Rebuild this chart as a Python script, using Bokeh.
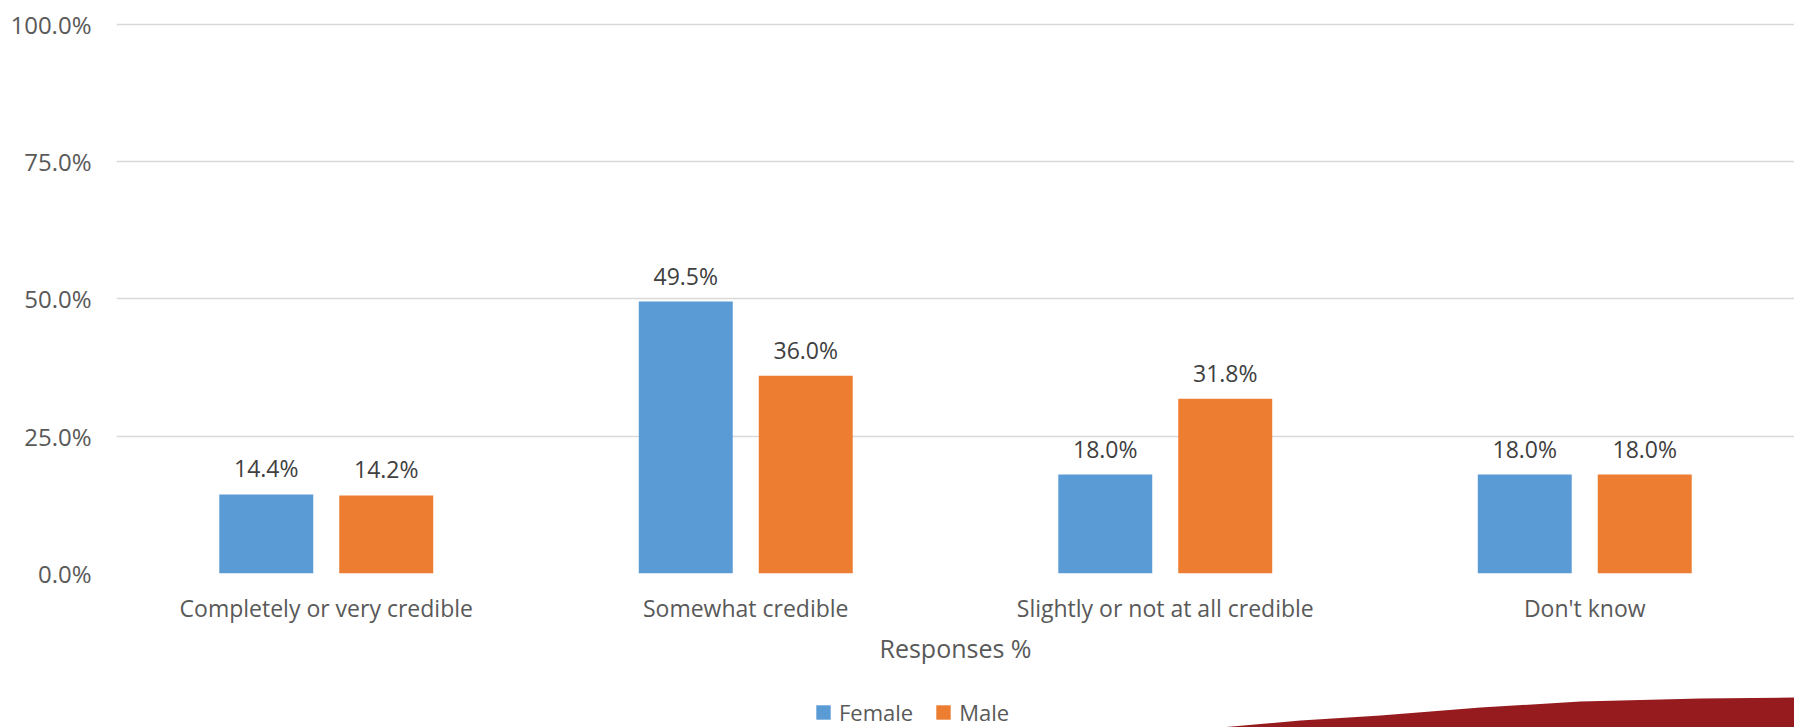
from bokeh.plotting import figure
from bokeh.layouts import column
from bokeh.models import (ColumnDataSource, FactorRange, Range1d, FixedTicker,
                          PrintfTickFormatter, LabelSet, Legend, LegendItem)
from bokeh.core.properties import value
from bokeh.transform import dodge
from bokeh.embed import file_html
from bokeh.resources import INLINE

categories = ["Completely or very credible", "Somewhat credible",
              "Slightly or not at all credible", "Don't know"]
female = [14.4, 49.5, 18.0, 18.0]
male = [14.2, 36.0, 31.8, 18.0]
y_ticks = [0, 25, 50, 75, 100]
series_names = ["Female", "Male"]
series_colors = ["#5B9BD5", "#ED7D31"]

FONT = "Open Sans"
W = 1794
LEFT = 116
H_MAIN = 690
H_FOOT = 37

src = ColumnDataSource(dict(
    cat=categories,
    female=female,
    male=male,
    female_lbl=[f"{v:.1f}%" for v in female],
    male_lbl=[f"{v:.1f}%" for v in male],
))

p = figure(x_range=FactorRange(factors=categories, range_padding=0),
           y_range=Range1d(0, 100.3),
           width=W, height=H_MAIN, output_backend="svg", toolbar_location=None,
           min_border_left=LEFT, min_border_right=0, min_border_top=22,
           min_border_bottom=H_MAIN - 573)
p.outline_line_color = None
p.background_fill_color = "white"
p.border_fill_color = "white"

BW = 0.224
OFF = 0.143
p.vbar(x=dodge("cat", -OFF, range=p.x_range), top="female", width=BW,
       source=src, fill_color=series_colors[0], line_color=None)
p.vbar(x=dodge("cat", OFF, range=p.x_range), top="male", width=BW,
       source=src, fill_color=series_colors[1], line_color=None)

for col, lbl, off in (("female", "female_lbl", -OFF), ("male", "male_lbl", OFF)):
    ls = LabelSet(x=dodge("cat", off, range=p.x_range), y=col, text=lbl, source=src,
                  text_align="center", text_baseline="alphabetic", y_offset=17,
                  text_font=value(FONT), text_font_size=value("23px"),
                  text_color="#404040")
    p.add_layout(ls)

# y axis
p.yaxis.ticker = FixedTicker(ticks=y_ticks)
p.yaxis.formatter = PrintfTickFormatter(format="%.1f%%")
p.yaxis.axis_line_color = None
p.yaxis.major_tick_line_color = None
p.yaxis.minor_tick_line_color = None
p.yaxis.major_tick_out = 0
p.yaxis.major_label_standoff = 25
p.yaxis.major_label_text_font = FONT
p.yaxis.major_label_text_font_size = "24px"
p.yaxis.major_label_text_color = "#595959"

# x axis
p.xaxis.axis_line_color = None
p.xaxis.major_tick_line_color = None
p.xaxis.minor_tick_line_color = None
p.xaxis.major_tick_out = 0
p.xaxis.major_label_standoff = 18
p.xaxis.major_label_text_font = FONT
p.xaxis.major_label_text_font_size = "23px"
p.xaxis.major_label_text_color = "#595959"
p.xaxis.axis_label = "Responses %"
p.xaxis.axis_label_standoff = 4
p.xaxis.axis_label_text_font = FONT
p.xaxis.axis_label_text_font_size = "25px"
p.xaxis.axis_label_text_font_style = "normal"
p.xaxis.axis_label_text_color = "#595959"

p.xgrid.grid_line_color = None
p.ygrid.ticker = FixedTicker(ticks=y_ticks)
p.ygrid.grid_line_color = "#D9D9D9"
p.ygrid.grid_line_width = 1.5

# footer strip: legend + slide decoration (ranges in page pixels)
f = figure(width=W, height=H_FOOT, x_range=Range1d(LEFT, W), y_range=Range1d(0, H_FOOT),
           output_backend="svg", toolbar_location=None,
           x_axis_location=None, y_axis_location=None,
           min_border_left=LEFT, min_border_right=0, min_border_top=0, min_border_bottom=0)
f.grid.visible = False
f.outline_line_color = None
f.background_fill_color = "white"
f.border_fill_color = "white"

# decorative slide background swoosh (bottom right)
swoosh_x = [1220, 1300, 1380, 1480, 1580, 1700, W, W]
swoosh_y = [0, 7, 12, 20, 26, 29, 30, 0]
f.patch(swoosh_x, swoosh_y, fill_color="#961B1F", line_color=None)

# zero-size renderers that only carry the legend swatches
key_src = ColumnDataSource(dict(x=[LEFT], top=[0]))
leg_f = f.vbar(x="x", top="top", width=0, source=key_src,
               fill_color=series_colors[0], line_color=None)
leg_m = f.vbar(x="x", top="top", width=0, source=key_src,
               fill_color=series_colors[1], line_color=None)
legend = Legend(items=[LegendItem(label=series_names[0], renderers=[leg_f]),
                       LegendItem(label=series_names[1], renderers=[leg_m])],
                orientation="horizontal", location=(814 - LEFT, 0),
                glyph_width=18, glyph_height=18, label_standoff=7, spacing=21,
                padding=0, margin=0, border_line_color=None,
                background_fill_alpha=0,
                label_text_font=FONT, label_text_font_size="22px",
                label_text_color="#595959")
f.add_layout(legend, "center")

layout = column(p, f, spacing=0)
open("out.html", "w").write(file_html(layout, INLINE))
